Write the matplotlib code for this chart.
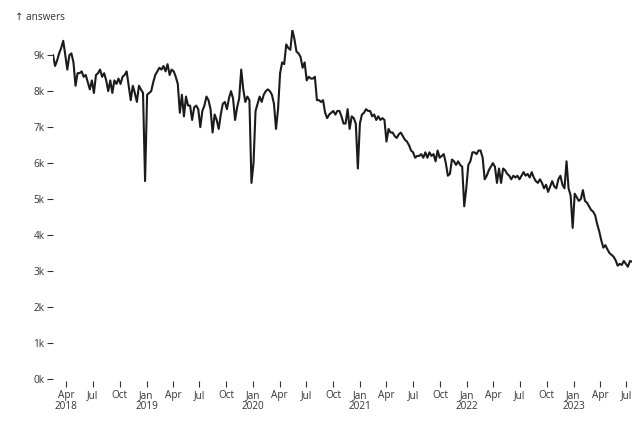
import matplotlib
matplotlib.use("Agg")
import matplotlib.pyplot as plt
import numpy as np
import pandas as pd

plt.rcParams['font.family'] = ['Open Sans', 'DejaVu Sans']

# weekly answer counts (thousands), one value per week starting at first_week
first_week = "2018-02-15"

answers_2018 = [9.0, 8.7, 8.85, 9.05, 9.2, 9.4, 9.0, 8.6, 9.0, 9.05,
                8.8, 8.15, 8.5, 8.5, 8.55, 8.4, 8.45, 8.25, 8.05, 8.3,
                7.95, 8.45, 8.5, 8.6, 8.4, 8.5, 8.3, 8.0, 8.3, 7.95,
                8.3, 8.2, 8.35, 8.2, 8.4, 8.45, 8.55, 8.15, 7.75, 8.15,
                7.95, 7.7, 8.15, 8.05, 7.95, 5.5]
answers_2019 = [7.9, 7.95, 8.0, 8.25, 8.45, 8.55, 8.65, 8.6, 8.7, 8.55,
                8.75, 8.45, 8.6, 8.55, 8.4, 8.2, 7.4, 7.9, 7.3, 7.85,
                7.6, 7.6, 7.2, 7.55, 7.6, 7.5, 7.0, 7.45, 7.6, 7.85,
                7.75, 7.5, 6.85, 7.35, 7.2, 6.95, 7.35, 7.65, 7.7, 7.5,
                7.8, 8.0, 7.8, 7.2, 7.55, 7.8, 8.6, 8.05, 7.7, 7.85,
                7.75, 5.45]
answers_2020 = [6.0, 7.45, 7.65, 7.85, 7.7, 7.9, 8.0, 8.05, 8.0, 7.9,
                7.65, 6.95, 7.5, 8.5, 8.8, 8.75, 9.3, 9.2, 9.15, 9.7,
                9.45, 9.1, 9.05, 8.95, 8.65, 8.8, 8.3, 8.4, 8.35, 8.35,
                8.4, 7.75, 7.75, 7.7, 7.75, 7.4, 7.25, 7.35, 7.4, 7.45,
                7.35, 7.45, 7.45, 7.3, 7.1, 7.1, 7.5, 6.95, 7.3, 7.25,
                7.1, 5.85]
answers_2021 = [7.1, 7.35, 7.4, 7.5, 7.45, 7.45, 7.3, 7.35, 7.2, 7.3,
                7.2, 7.25, 7.2, 6.6, 6.95, 6.85, 6.85, 6.75, 6.7, 6.8,
                6.85, 6.75, 6.65, 6.6, 6.5, 6.35, 6.3, 6.15, 6.2, 6.2,
                6.25, 6.15, 6.3, 6.15, 6.3, 6.2, 6.25, 6.05, 6.35, 6.15,
                6.2, 6.25, 6.0, 5.65, 5.7, 6.1, 6.05, 5.95, 6.05, 5.95,
                5.9, 4.8]
answers_2022 = [5.3, 5.95, 6.05, 6.3, 6.3, 6.25, 6.35, 6.35, 6.15, 5.55,
                5.65, 5.8, 5.9, 6.0, 5.9, 5.45, 5.85, 5.45, 5.85, 5.8,
                5.7, 5.65, 5.55, 5.65, 5.6, 5.65, 5.55, 5.65, 5.75, 5.65,
                5.7, 5.6, 5.75, 5.6, 5.5, 5.45, 5.55, 5.45, 5.3, 5.4,
                5.2, 5.35, 5.5, 5.35, 5.3, 5.55, 5.65, 5.4, 5.3, 6.05,
                5.3, 5.1]
answers_2023 = [4.2, 5.15, 5.05, 4.95, 5.0, 5.25, 4.95, 4.9, 4.8, 4.7,
                4.65, 4.55, 4.3, 4.1, 3.85, 3.65, 3.72, 3.6, 3.5, 3.45,
                3.4, 3.3, 3.15, 3.2, 3.17, 3.28, 3.2, 3.12, 3.28, 3.26]

y_ticks = list(range(0, 10000, 1000))
x_tick_start = "2018-04-01"
x_tick_end = "2023-07-01"

answers = np.array(answers_2018 + answers_2019 + answers_2020 +
                   answers_2021 + answers_2022 + answers_2023) * 1000
weeks = pd.date_range(first_week, periods=len(answers), freq="7D")

fig = plt.figure(figsize=(6.42, 4.24), dpi=100)
ax = fig.add_axes([53 / 642, 45 / 424, 579 / 642, 349 / 424])

ax.plot(weeks, answers, color="#1b1b1b", lw=1.5, solid_joinstyle="round")
ax.set_xlim(weeks[0], weeks[-1])
ax.set_ylim(0, answers.max())

for s in ax.spines.values():
    s.set_visible(False)
ax.spines['bottom'].set_position(('outward', 1.5))

ax.set_yticks(y_ticks)
ax.set_yticklabels([f"{v // 1000}k" for v in y_ticks])

tick_dates = pd.date_range(x_tick_start, x_tick_end, freq="QS")
labels = []
for i, d in enumerate(tick_dates):
    if i == 0 or d.month == 1:
        labels.append(d.strftime("%b") + "\n" + d.strftime("%Y"))
    else:
        labels.append(d.strftime("%b"))
ax.set_xticks(tick_dates)
ax.set_xticklabels(labels)
for lbl in ax.get_xticklabels():
    lbl.set_linespacing(1.0)

ax.tick_params(axis="y", length=4.3, width=0.8, pad=1.8, labelsize=7.2,
               color="#333333", labelcolor="#333333")
ax.tick_params(axis="x", length=4.3, width=0.8, pad=2.0, labelsize=7.2,
               color="#333333", labelcolor="#333333")

fig.text(15 / 642, 1 - 17 / 424, "↑ answers", ha="left", va="center",
         fontsize=7.2, color="#333333")

fig.savefig("out.png", dpi=100)
